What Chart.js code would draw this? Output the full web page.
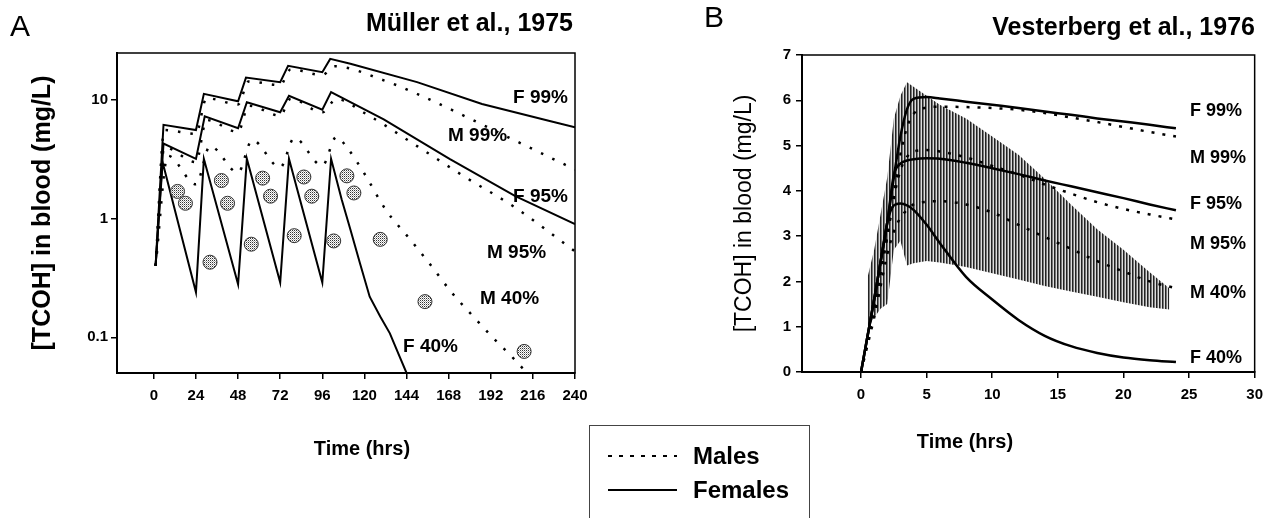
<!DOCTYPE html>
<html>
<head>
<meta charset="utf-8">
<script src="https://cdn.jsdelivr.net/npm/chart.js@4"></script>
<style>
  body { margin: 0; background: #fff; width: 1271px; height: 518px; overflow: hidden; position: relative;
         font-family: "Liberation Sans", Arial, Helvetica, sans-serif; color: #000; }
  canvas { position: absolute; top: 0; }
  .lbl { position: absolute; line-height: 1; white-space: nowrap; transform: translateY(-50%); }
  .b { font-weight: bold; }
  .r { transform: translate(-100%, -50%); }
  .c { transform: translate(-50%, -50%); }
  .cl { font-weight: bold; font-size: 19px; }
  .clb { font-weight: bold; font-size: 18px; }
  #legend { position: absolute; left: 589px; top: 425px; width: 219px; height: 120px; border: 1px solid #444; }
  .sample { position: absolute; left: 608px; width: 69px; height: 2px; }
</style>
</head>
<body>
<canvas id="chartA" width="620" height="470" style="left:0"></canvas>
<canvas id="chartB" width="631" height="470" style="left:640px"></canvas>

<div class="lbl" style="left:10px; top:26px; font-size:30px">A</div>
<div class="lbl" style="left:704px; top:17px; font-size:30px">B</div>
<div class="lbl b r" style="left:573px; top:22px; font-size:25px">Müller et al., 1975</div>
<div class="lbl b r" style="left:1255px; top:26px; font-size:25px">Vesterberg et al., 1976</div>
<div class="lbl b c" style="left:362px; top:448px; font-size:20px">Time (hrs)</div>
<div class="lbl b c" style="left:965px; top:441px; font-size:20px">Time (hrs)</div>

<div class="lbl cl" style="left:513px; top:96px">F 99%</div>
<div class="lbl cl" style="left:448px; top:134px">M 99%</div>
<div class="lbl cl" style="left:513px; top:195px">F 95%</div>
<div class="lbl cl" style="left:487px; top:251px">M 95%</div>
<div class="lbl cl" style="left:480px; top:297px">M 40%</div>
<div class="lbl cl" style="left:403px; top:345px">F 40%</div>

<div class="lbl clb" style="left:1190px; top:110px">F 99%</div>
<div class="lbl clb" style="left:1190px; top:157px">M 99%</div>
<div class="lbl clb" style="left:1190px; top:203px">F 95%</div>
<div class="lbl clb" style="left:1190px; top:243px">M 95%</div>
<div class="lbl clb" style="left:1190px; top:292px">M 40%</div>
<div class="lbl clb" style="left:1190px; top:357px">F 40%</div>

<div id="legend"></div>
<div class="sample" style="top:455px; background: repeating-linear-gradient(to right, #000 0 4px, transparent 4px 11px);"></div>
<div class="sample" style="top:489px; background:#000;"></div>
<div class="lbl b" style="left:693px; top:456px; font-size:24px">Males</div>
<div class="lbl b" style="left:693px; top:490px; font-size:24px">Females</div>

<script>
// Panel A - Müller et al., 1975 (log scale)
const xTicksA = [0, 24, 48, 72, 96, 120, 144, 168, 192, 216, 240];
const yTicksA = [0.1, 1, 10];

const tF99A = [1, 5.5, 24, 28.5, 48, 52.5, 72, 76.5, 96, 100.5, 112, 150, 187, 225, 240];
const vF99A = [0.4, 6.2, 5.6, 11.3, 9.8, 15.5, 14.2, 19.5, 17.2, 22.3, 20.3, 14.2, 9.3, 6.7, 5.9];
const tM99A = [1, 6, 24, 30, 48, 54, 72, 78, 96, 103, 131, 150, 206, 240];
const vM99A = [0.4, 5.6, 5.2, 10.4, 9.2, 14.4, 13.4, 18.2, 16.3, 19.3, 14.7, 11.3, 4.55, 2.6];
const tF95A = [1, 5.5, 24, 29, 48, 53, 72, 77, 96, 101, 131, 168.5, 206, 240];
const vF95A = [0.4, 4.3, 3.2, 7.3, 5.8, 9.6, 7.9, 10.9, 8.3, 11.7, 6.9, 3.2, 1.55, 0.9];
const tM95A = [1, 6, 24, 30, 48, 54, 72, 78, 96, 104, 121, 150, 178, 206, 240];
const vM95A = [0.4, 4.0, 3.0, 6.8, 5.4, 9.0, 7.4, 10.3, 7.9, 10.2, 7.65, 4.1, 2.22, 1.24, 0.53];
const tM40A = [1, 8, 24, 32, 48, 56, 72, 80, 96, 104, 110, 120, 132, 146, 157, 170, 182, 193, 206, 212];
const vM40A = [0.4, 3.4, 1.95, 4.1, 2.45, 4.6, 2.7, 4.8, 2.8, 4.9, 4.0, 2.4, 1.2, 0.67, 0.42, 0.236, 0.15, 0.1, 0.064, 0.051];
const tF40A = [1, 5, 24, 28.5, 48, 53, 72, 77, 96, 101, 107, 112, 117.5, 123, 129, 134.5, 140, 144];
const vF40A = [0.4, 3.0, 0.24, 3.2, 0.28, 3.2, 0.29, 3.2, 0.29, 3.2, 1.46, 0.81, 0.42, 0.22, 0.15, 0.108, 0.069, 0.05];

// observed values (circles)
const tObsA = [13.5, 18, 32, 38.5, 42, 55.5, 62, 66.5, 80, 85.5, 90, 102.5, 110, 114, 129, 154.5, 211];
const vObsA = [1.7, 1.35, 0.43, 2.1, 1.35, 0.61, 2.2, 1.55, 0.72, 2.25, 1.55, 0.65, 2.3, 1.65, 0.67, 0.2, 0.076];

// Panel B - Vesterberg et al., 1976 (linear scale)
const xTicksB = [0, 5, 10, 15, 20, 25, 30];
const yTicksB = [0, 1, 2, 3, 4, 5, 6, 7];
const timeB = [0, 0.5, 1, 1.5, 2, 2.5, 3, 3.5, 4, 5, 6, 8, 10, 12, 14, 16, 18, 20, 22, 24];
const f99B = [0, 0.8, 1.6, 2.45, 3.3, 4.3, 5.2, 5.8, 6.03, 6.07, 6.04, 5.97, 5.9, 5.83, 5.75, 5.68, 5.6, 5.53, 5.46, 5.38];
const m99B = [0, 0.7, 1.4, 2.2, 3.0, 3.9, 4.8, 5.4, 5.7, 5.84, 5.86, 5.85, 5.83, 5.79, 5.72, 5.62, 5.52, 5.41, 5.3, 5.2];
const f95B = [0, 0.8, 1.6, 2.45, 3.3, 4.35, 4.6, 4.67, 4.7, 4.72, 4.71, 4.62, 4.5, 4.37, 4.23, 4.1, 3.97, 3.84, 3.7, 3.57];
const m95B = [0, 0.7, 1.4, 2.2, 3.0, 3.85, 4.45, 4.75, 4.87, 4.9, 4.87, 4.74, 4.55, 4.36, 4.14, 3.94, 3.75, 3.6, 3.48, 3.37];
const m40B = [0, 0.6, 1.2, 1.9, 2.6, 3.1, 3.4, 3.58, 3.7, 3.76, 3.77, 3.7, 3.52, 3.25, 2.98, 2.72, 2.45, 2.22, 2.0, 1.85];
const f40B = [0, 0.8, 1.6, 2.45, 3.3, 3.68, 3.72, 3.68, 3.58, 3.25, 2.85, 2.1, 1.6, 1.15, 0.8, 0.57, 0.42, 0.32, 0.26, 0.22];

// observed range (hatched band)
const timeBand = [0.5, 1, 1.5, 2, 2.5, 3, 3.5, 4, 5, 6, 8, 10, 12, 14, 16, 18, 20, 22, 23.5];
const bandHi = [2.1, 2.7, 3.5, 4.3, 5.6, 6.1, 6.4, 6.3, 6.1, 5.9, 5.6, 5.2, 4.8, 4.27, 3.7, 3.15, 2.7, 2.2, 1.85];
const bandLo = [1.0, 1.2, 1.4, 1.5, 2.7, 2.9, 2.35, 2.4, 2.45, 2.42, 2.32, 2.18, 2.04, 1.9, 1.78, 1.66, 1.54, 1.43, 1.38];

const FONT = '"Liberation Sans", Arial, Helvetica, sans-serif';
Chart.defaults.font.family = FONT;
Chart.defaults.color = '#000';

const pts = (ts, vs) => ts.map((t, i) => ({ x: t, y: vs[i] }));

function makePattern(canvasId, w, h, paint) {
  const c = document.createElement('canvas');
  c.width = w; c.height = h;
  paint(c.getContext('2d'));
  return document.getElementById(canvasId).getContext('2d').createPattern(c, 'repeat');
}

const stipple = makePattern('chartA', 2, 2, g => {
  g.fillStyle = '#fff'; g.fillRect(0, 0, 2, 2);
  g.fillStyle = '#333'; g.fillRect(0, 0, 1, 1);
  g.fillStyle = '#aaa'; g.fillRect(1, 1, 1, 1);
});
const stripes = makePattern('chartB', 3, 1, g => {
  g.fillStyle = '#ddd'; g.fillRect(0, 0, 3, 1);
  g.fillStyle = '#222'; g.fillRect(0, 0, 1, 1);
  g.fillStyle = '#777'; g.fillRect(1, 0, 1, 1);
});

// box around the plot area
const frame = {
  id: 'frame',
  afterDraw(chart) {
    const { ctx, chartArea: a } = chart;
    ctx.save();
    ctx.strokeStyle = '#000';
    ctx.lineWidth = 1.5;
    ctx.strokeRect(a.left, a.top, a.right - a.left, a.bottom - a.top);
    ctx.restore();
  }
};

function female(data, w, smooth) {
  const d = { data, borderColor: '#000', borderWidth: w, pointRadius: 0, fill: false, tension: 0 };
  if (smooth) d.cubicInterpolationMode = 'monotone';
  return d;
}
function male(data, w, dash) {
  return { data, borderColor: '#000', borderWidth: w, borderDash: dash, pointRadius: 0, fill: false,
           cubicInterpolationMode: 'monotone' };
}

function axisOpts(o) {
  const ax = {
    type: o.type || 'linear',
    min: o.min, max: o.max,
    afterFit: o.fit,
    afterBuildTicks: s => { s.ticks = o.ticks.map(v => ({ value: v })); },
    grid: { display: true, drawOnChartArea: false, drawTicks: true, tickLength: 6, color: '#000', lineWidth: 1.5 },
    border: { display: true, color: '#000', width: 2 },
    ticks: { font: { size: 15, weight: 'bold' }, padding: o.tickPad, autoSkip: false, maxRotation: 0,
             callback: v => String(v) }
  };
  if (o.title) {
    ax.title = { display: true, text: o.title, font: { size: o.titleSize, weight: o.titleWeight },
                 padding: o.titlePad };
  }
  return ax;
}

new Chart(document.getElementById('chartA'), {
  type: 'line',
  data: {
    datasets: [
      { data: pts(tObsA, vObsA), showLine: false, pointRadius: 7, pointBackgroundColor: stipple,
        pointBorderColor: '#333', pointBorderWidth: 1 },
      female(pts(tF99A, vF99A), 2),
      male(pts(tM99A, vM99A), 2.5, [2.5, 10]),
      female(pts(tF95A, vF95A), 2),
      male(pts(tM95A, vM95A), 2.5, [2.5, 10]),
      male(pts(tM40A, vM40A), 2.5, [2.5, 10]),
      female(pts(tF40A, vF40A), 2)
    ]
  },
  options: {
    responsive: false,
    animation: false,
    layout: { padding: { left: 0, top: 53, right: 45, bottom: 0 } },
    plugins: { legend: { display: false }, tooltip: { enabled: false } },
    scales: {
      x: axisOpts({ min: -21, max: 240, ticks: xTicksA, fit: s => { s.height = 97; }, tickPad: 8 }),
      y: axisOpts({ type: 'logarithmic', min: 0.05, max: 25, ticks: yTicksA, fit: s => { s.width = 117; },
                    tickPad: 3, title: '[TCOH] in blood (mg/L)', titleSize: 25, titleWeight: 'bold',
                    titlePad: { top: 28, bottom: 0 } })
    }
  },
  plugins: [frame]
});

new Chart(document.getElementById('chartB'), {
  type: 'line',
  data: {
    datasets: [
      { data: pts(timeBand, bandHi), borderWidth: 0, pointRadius: 0, fill: '+1', backgroundColor: stripes, order: 10 },
      { data: pts(timeBand, bandLo), borderWidth: 0, pointRadius: 0, fill: false, order: 10 },
      female(pts(timeB, f99B), 2.5, true),
      male(pts(timeB, m99B), 2.5, [3, 8]),
      female(pts(timeB, f95B), 2.5, true),
      male(pts(timeB, m95B), 2.5, [3, 8]),
      male(pts(timeB, m40B), 2.5, [3, 8]),
      female(pts(timeB, f40B), 2.5, true)
    ]
  },
  options: {
    responsive: false,
    animation: false,
    layout: { padding: { left: 0, top: 55, right: 9, bottom: 0 } },
    plugins: { legend: { display: false }, tooltip: { enabled: false } },
    scales: {
      x: axisOpts({ min: -4.5, max: 30, ticks: xTicksB, fit: s => { s.height = 98; }, tickPad: 8 }),
      y: axisOpts({ min: 0, max: 7, ticks: yTicksB, fit: s => { s.width = 162; }, tickPad: 5,
                    title: '[TCOH] in blood (mg/L)', titleSize: 23, titleWeight: 'normal',
                    titlePad: { top: 91, bottom: 0 } })
    }
  },
  plugins: [frame]
});
</script>
</body>
</html>
